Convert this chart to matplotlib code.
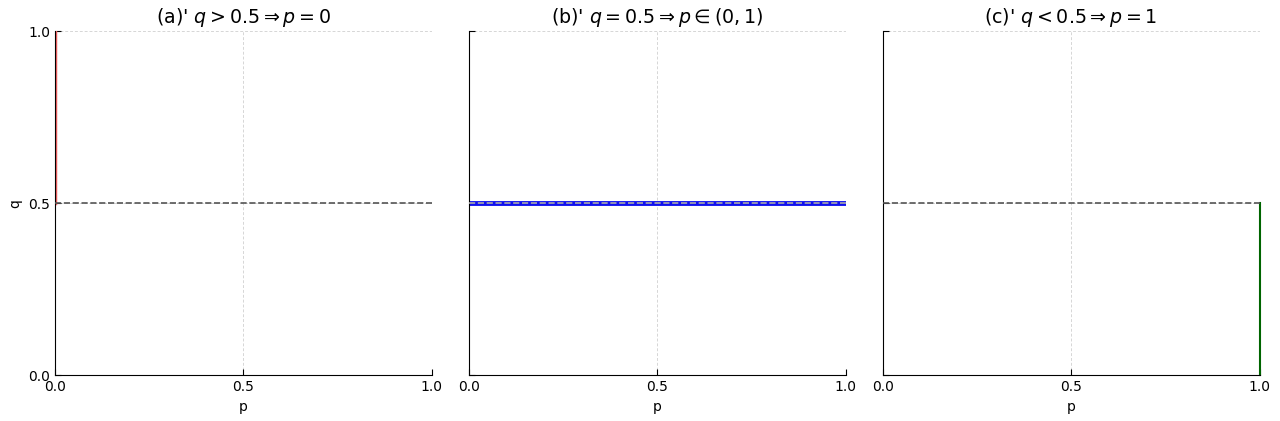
import matplotlib
matplotlib.use("Agg")
import matplotlib.pyplot as plt

titles = [r"(a)' $q > 0.5 \Rightarrow p = 0$",
          r"(b)' $q = 0.5 \Rightarrow p \in (0, 1)$",
          r"(c)' $q < 0.5 \Rightarrow p = 1$"]
ticks = [0.0, 0.5, 1.0]
tick_labels = ["0.0", "0.5", "1.0"]
threshold_q = 0.5

# best-response segments (p values, q values)
seg_a_p = [0.0, 0.0]
seg_a_q = [0.5, 1.0]
seg_b_p = [0.0, 1.0]
seg_b_q = [0.5, 0.5]
seg_c_p = [1.0, 1.0]
seg_c_q = [0.0, 0.5]

fig, axes = plt.subplots(1, 3, figsize=(12.8, 4.21), dpi=100, sharey=True)
fig.subplots_adjust(left=0.043, right=0.984, top=0.926, bottom=0.109, wspace=0.098)

for i, ax in enumerate(axes):
    ax.set_xlim(0, 1)
    ax.set_ylim(0, 1)
    ax.set_xticks(ticks)
    ax.set_xticklabels(tick_labels)
    ax.set_yticks(ticks)
    ax.set_yticklabels(tick_labels)
    ax.tick_params(direction="in", labelsize=10, length=4)
    ax.grid(True, linestyle=(0, (3, 2)), color="#cccccc", linewidth=0.7, alpha=0.8)
    ax.spines["top"].set_visible(False)
    ax.spines["right"].set_visible(False)
    ax.set_title(titles[i], fontsize=13.7)
    ax.set_xlabel("p", fontsize=10)

axes[0].set_ylabel("q", fontsize=10)
for ax in axes[1:]:
    ax.tick_params(labelleft=False)

axes[0].plot(seg_a_p, seg_a_q, color="#f06060", linewidth=2.5, zorder=2)
axes[1].plot(seg_b_p, seg_b_q, color="#1010ee", linewidth=3.5, zorder=2)
axes[2].plot(seg_c_p, seg_c_q, color="#006400", linewidth=1.5, zorder=2, clip_on=False)

for i, ax in enumerate(axes):
    col = "#aaaaaa" if i == 1 else "#555555"
    ax.axhline(threshold_q, color=col, linestyle="--", linewidth=1.2, zorder=3)

fig.savefig("out.png", dpi=100)
